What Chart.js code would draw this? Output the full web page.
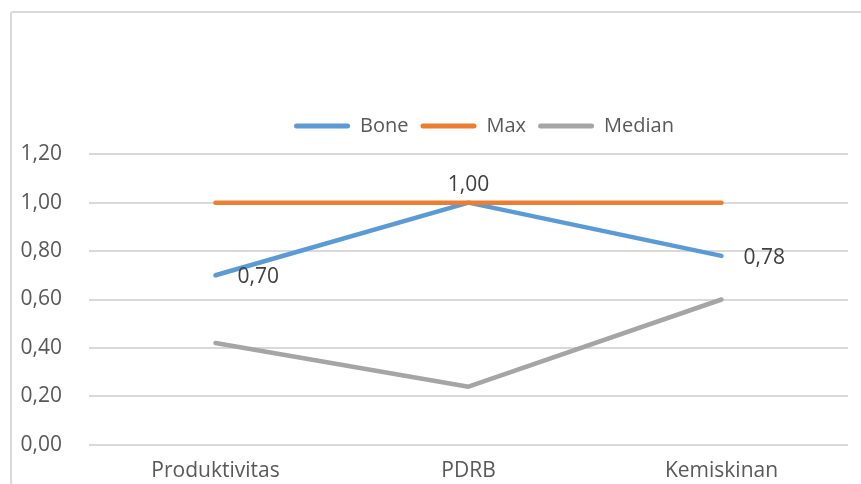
<!DOCTYPE html>
<html>
<head>
<meta charset="utf-8">
<script src="https://cdn.jsdelivr.net/npm/chart.js@4.4.1/dist/chart.umd.min.js"></script>
<style>
  html, body { margin: 0; padding: 0; background: #fff; }
  #wrap { position: relative; width: 861px; height: 484px; overflow: hidden; }
  #frame {
    position: absolute; left: 10px; top: 11px; width: 955px; height: 471px;
    border: 2px solid #d9d9d9; border-radius: 3px;
  }
  canvas { position: absolute; left: 0; top: 0; }
</style>
</head>
<body>
<div id="wrap">
  <div id="frame"></div>
  <canvas id="chart" width="861" height="505"></canvas>
</div>
<script>
// kategori dan nilai indeks
const categories = ['Produktivitas', 'PDRB', 'Kemiskinan'];
const boneValues = [0.70, 1.00, 0.78];
const maxValues = [1.00, 1.00, 1.00];
const medianValues = [0.42, 0.24, 0.60];
const yTicks = [0, 0.2, 0.4, 0.6, 0.8, 1.0, 1.2];

const FONT = '"Open Sans", sans-serif';
const SIZE = 21;
const fmt = v => v.toFixed(2).replace('.', ',');

// label nilai untuk seri Bone (kanan / atas titik)
const boneLabels = {
  id: 'boneLabels',
  afterDatasetsDraw(chart, args, opts) {
    const meta = chart.getDatasetMeta(0);
    const ctx = chart.ctx;
    ctx.save();
    ctx.font = SIZE + 'px ' + FONT;
    ctx.fillStyle = '#404040';
    ctx.textBaseline = 'middle';
    meta.data.forEach((pt, i) => {
      const v = fmt(boneValues[i]);
      if (opts.positions[i] === 'above') {
        ctx.textAlign = 'center';
        ctx.fillText(v, pt.x, pt.y - 18);
      } else {
        ctx.textAlign = 'left';
        ctx.fillText(v, pt.x + 22, pt.y + 2);
      }
    });
    ctx.restore();
  }
};

// geser legenda ke kanan (pusatnya di tengah bingkai grafik, bukan area plot)
const legendShift = {
  id: 'legendShift',
  afterLayout(chart, args, opts) {
    const lg = chart.legend;
    if (!lg) return;
    lg.left += opts.dx;
    lg.right += opts.dx;
  }
};

function line(label, data, color, order) {
  return {
    label: label,
    data: data,
    borderColor: color,
    backgroundColor: color,
    borderWidth: 4.5,
    borderCapStyle: 'round',
    borderJoinStyle: 'round',
    pointRadius: 0,
    tension: 0,
    order: order
  };
}

new Chart(document.getElementById('chart'), {
  type: 'line',
  data: {
    labels: categories,
    datasets: [
      line('Bone', boneValues, '#5b9bd5', 3),
      line('Max', maxValues, '#ed7d31', 2),
      line('Median', medianValues, '#a5a5a5', 1)
    ]
  },
  options: {
    responsive: false,
    animation: false,
    layout: { padding: { left: 20, right: 13, top: 104, bottom: 7 } },
    plugins: {
      tooltip: { enabled: false },
      boneLabels: { positions: ['right', 'above', 'right'] },
      legendShift: { dx: 50 },
      // spasi kosong antara legenda dan area plot
      title: { display: true, text: ' ', weight: 500, font: { size: 1 }, padding: { top: 0, bottom: 7 } },
      legend: {
        position: 'top',
        labels: {
          color: '#595959',
          font: { family: FONT, size: 20 },
          boxWidth: 56,
          boxHeight: 5,
          padding: 12,
          useBorderRadius: true,
          borderRadius: 2.5,
          generateLabels(chart) {
            const items = Chart.defaults.plugins.legend.labels.generateLabels(chart);
            items.forEach(it => { it.lineWidth = 0; });
            return items.sort((a, b) => a.datasetIndex - b.datasetIndex);
          }
        }
      }
    },
    scales: {
      x: {
        offset: true,
        grid: { display: false, drawTicks: false },
        border: { display: false },
        ticks: { color: '#595959', font: { family: FONT, size: SIZE }, padding: 14, maxRotation: 0 }
      },
      y: {
        min: 0,
        max: 1.2,
        afterBuildTicks(axis) { axis.ticks = yTicks.map(v => ({ value: v })); },
        afterFit(axis) { axis.width = 69; },
        grid: { color: '#d9d9d9', lineWidth: 2, drawTicks: false },
        border: { display: false },
        ticks: {
          color: '#595959',
          font: { family: FONT, size: SIZE },
          padding: 27,
          callback: v => fmt(v)
        }
      }
    }
  },
  plugins: [boneLabels, legendShift]
});
</script>
</body>
</html>
